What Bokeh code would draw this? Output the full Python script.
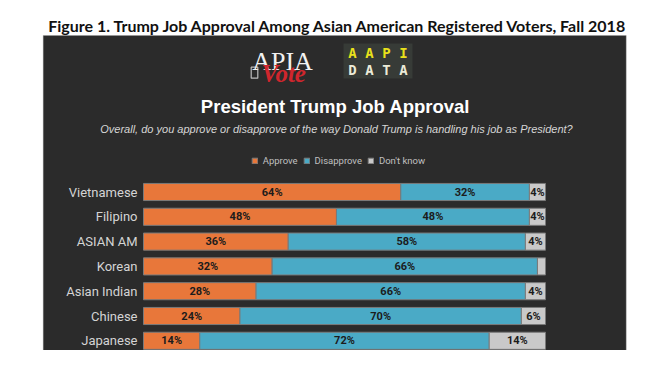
from bokeh.plotting import figure
from bokeh.models import Range1d, Label, Legend, LegendItem, ColumnDataSource
from bokeh.core.properties import value
from bokeh.embed import file_html
from bokeh.resources import INLINE

# ---------------- data ----------------
categories = ["Vietnamese", "Filipino", "ASIAN AM", "Korean", "Asian Indian", "Chinese", "Japanese"]
approve = [64, 48, 36, 32, 28, 24, 14]
disapprove = [32, 48, 59, 66, 67, 70, 72]
dont_know = [4, 4, 5, 2, 5, 6, 14]
approve_labels = ["64%", "48%", "36%", "32%", "28%", "24%", "14%"]
disapprove_labels = ["32%", "48%", "58%", "66%", "66%", "70%", "72%"]
dont_know_labels = ["4%", "4%", "4%", "", "4%", "6%", "14%"]
series_names = ["Approve", "Disapprove", "Don't know"]
series_colors = ["#e8773a", "#4aaac6", "#c9c9c9"]

# ---------------- geometry ----------------
W, H = 634, 350
ZERO_PX = 143.0
PX_PER_PCT = 4.02
ROW_PX = 24.8
BOTTOM_ROW_Y = 340.3

x_start = -ZERO_PX / PX_PER_PCT
x_end = x_start + W / PX_PER_PCT
y_start = -(H - BOTTOM_ROW_Y) / ROW_PX
y_end = y_start + H / ROW_PX


def X(px):
    return x_start + px / PX_PER_PCT


def Y(py):
    return y_start + (H - py) / ROW_PX


p = figure(width=W, height=H, output_backend="svg", toolbar_location=None,
           x_range=Range1d(x_start, x_end), y_range=Range1d(y_start, y_end),
           min_border=0, min_border_left=0, min_border_right=0,
           min_border_top=0, min_border_bottom=0)
p.axis.visible = False
p.grid.visible = False
p.outline_line_color = None
p.background_fill_color = "white"
p.border_fill_color = "white"

# dark panel
p.quad(left=X(42.7), right=X(625.7), top=Y(35), bottom=Y(360),
       fill_color="#2b2b2b", line_color="#9a9a9a", line_width=0.6, line_alpha=0.6)

# ---------------- bars ----------------
n = len(categories)
ys = [n - 1 - i for i in range(n)]
a_left = [0] * n
a_right = [a for a in approve]
d_left = a_right
d_right = [a + d for a, d in zip(approve, disapprove)]
k_left = d_right
k_right = [a + d + k for a, d, k in zip(approve, disapprove, dont_know)]

segments = [
    (a_left, a_right, approve_labels),
    (d_left, d_right, disapprove_labels),
    (k_left, k_right, dont_know_labels),
]
renderers = []
for (lft, rgt, labs), name, col in zip(segments, series_names, series_colors):
    src = ColumnDataSource(dict(y=ys, left=lft, right=rgt,
                                mid=[(l + r) / 2 for l, r in zip(lft, rgt)],
                                lab=labs, cat=categories))
    r = p.hbar(y="y", left="left", right="right", height=0.69, source=src,
               fill_color=col, line_color="#7a7a7a", line_width=1)
    renderers.append(r)
    p.text(x="mid", y="y", text="lab", source=src, text_align="center",
           text_baseline="middle", text_color="#1c1c1c",
           text_font=value("Roboto"), text_font_style="bold",
           text_font_size="11px")

# category labels
cat_src = ColumnDataSource(dict(x=[0] * n, y=ys, cat=categories))
p.text(x="x", y="y", text="cat", source=cat_src, x_offset=-6,
       text_align="right", text_baseline="middle", text_color="#d4d4d4",
       text_font=value("Roboto"), text_font_size="13px")

# ---------------- legend ----------------
legend = Legend(items=[LegendItem(label=nm, renderers=[r]) for nm, r in zip(series_names, renderers)],
                orientation="horizontal", location=(250.7, H - 165.7),
                glyph_width=7, glyph_height=7, label_height=7,
                label_standoff=5, spacing=5, padding=0, margin=0,
                border_line_color=None, background_fill_alpha=0,
                label_text_color="#c0c0c0", label_text_font="Roboto",
                label_text_font_size="9.5px")
p.add_layout(legend)

# ---------------- texts ----------------
p.add_layout(Label(x=X(340), y=Y(25), text="Figure 1.  Trump Job Approval Among Asian American Registered Voters, Fall 2018",
                   text_align="center", text_baseline="alphabetic", text_color="#111111",
                   text_font="Lato", text_font_style="bold", text_font_size="16px"))

p.add_layout(Label(x=X(335), y=Y(106), text="President Trump Job Approval",
                   text_align="center", text_baseline="alphabetic", text_color="#ffffff",
                   text_font="Liberation Sans", text_font_style="bold", text_font_size="18.5px"))

p.add_layout(Label(x=X(336), y=Y(128),
                   text="Overall, do you approve or disapprove of the way Donald Trump is handling his job as President?",
                   text_align="center", text_baseline="alphabetic", text_color="#d6d6d6",
                   text_font="Liberation Sans", text_font_style="italic", text_font_size="11px"))

# APIA Vote logo
p.add_layout(Label(x=X(282), y=Y(61), text="APIA", text_align="center",
                   text_baseline="alphabetic", text_color="#f2f2f2",
                   text_font="Liberation Serif", text_font_size="26px"))
p.add_layout(Label(x=X(261), y=Y(73), text="Vote", text_align="left",
                   text_baseline="alphabetic", text_color="#d0262d",
                   text_font="Liberation Serif", text_font_style="bold italic",
                   text_font_size="25px"))
p.quad(left=X(250.7), right=X(257.3), top=Y(66.7), bottom=Y(77.7),
       fill_color=None, line_color="#bdbdbd", line_width=1.2)

# AAPI DATA logo
p.quad(left=X(343), right=X(412), top=Y(43), bottom=Y(78),
       fill_color="#373b37", line_color=None)
letter_x = [X(c) for c in (352, 369, 386, 403)]
p.text(x=letter_x, y=[Y(52)] * 4, text=list("AAPI"), text_align="center",
       text_baseline="middle", text_color="#e9e11b",
       text_font=value("DejaVu Sans Mono"), text_font_style="bold", text_font_size="14px")
p.text(x=letter_x, y=[Y(69.5)] * 4, text=list("DATA"), text_align="center",
       text_baseline="middle", text_color="#ecebd8",
       text_font=value("DejaVu Sans Mono"), text_font_style="bold", text_font_size="14px")

open("out.html", "w").write(file_html(p, INLINE))
